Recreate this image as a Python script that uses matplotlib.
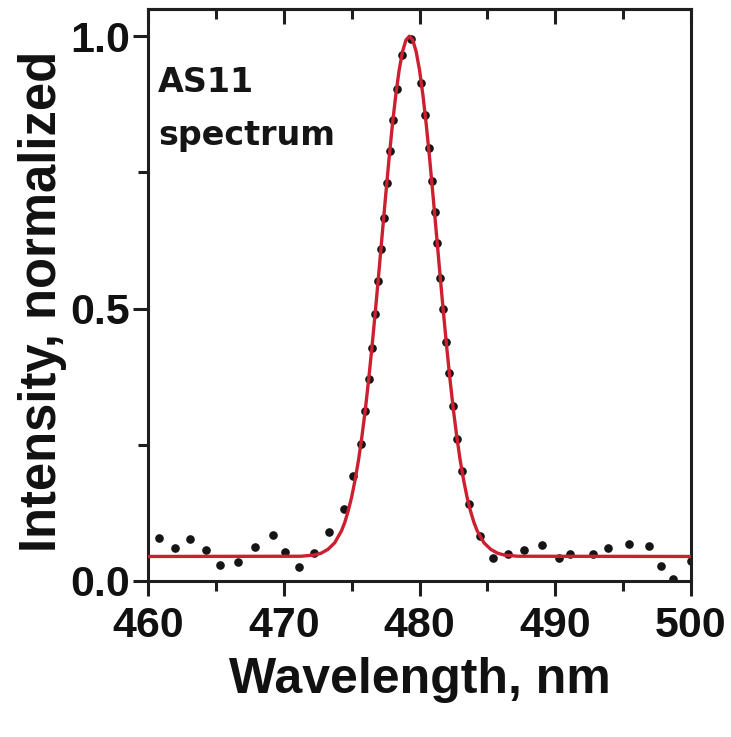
#!/usr/bin/env python

import matplotlib
matplotlib.use('Agg')
from matplotlib import pyplot as plt
from matplotlib.ticker import MultipleLocator

# measured spectrum (black dots)
wavelength = [460.8, 462.0, 463.1, 464.3, 465.3, 466.6, 467.9, 469.2, 470.1, 471.1,
              472.2, 473.3, 474.4, 475.1, 475.68, 475.99, 476.26, 476.49, 476.73, 476.95,
              477.16, 477.36, 477.59, 477.81, 478.04, 478.31, 478.69, 479.4, 480.14, 480.42,
              480.67, 480.89, 481.11, 481.31, 481.53, 481.73, 481.97, 482.20, 482.46, 482.77,
              483.13, 483.62, 484.44, 485.4, 486.5, 487.7, 489.0, 490.3, 491.1, 492.8,
              493.9, 495.4, 496.9, 497.8, 498.7, 500.0]
intensity = [0.079, 0.061, 0.077, 0.057, 0.029, 0.035, 0.063, 0.085, 0.053, 0.026,
             0.051, 0.090, 0.132, 0.193, 0.252, 0.312, 0.371, 0.428, 0.491, 0.551,
             0.610, 0.667, 0.730, 0.790, 0.846, 0.904, 0.965, 0.995, 0.914, 0.855,
             0.794, 0.735, 0.677, 0.620, 0.557, 0.500, 0.438, 0.381, 0.322, 0.261,
             0.202, 0.142, 0.083, 0.042, 0.050, 0.057, 0.066, 0.042, 0.050, 0.050,
             0.061, 0.068, 0.064, 0.028, 0.004, 0.037]

# fitted curve (red line)
fit_wavelength = [460.0, 471.25, 472.25, 472.75, 473.25, 473.75, 474.25, 474.5, 474.75, 475.0,
                  475.25, 475.5, 475.75, 476.0, 476.25, 476.5, 476.75, 477.0, 477.25, 477.5,
                  477.75, 478.0, 478.25, 478.5, 478.75, 479.0, 479.25, 479.5, 479.75, 480.0,
                  480.25, 480.5, 480.75, 481.0, 481.25, 481.5, 481.75, 482.0, 482.25, 482.5,
                  482.75, 483.0, 483.25, 483.5, 483.75, 484.0, 484.25, 484.75, 485.25, 485.75,
                  486.25, 487.25, 500.0]
fit_intensity = [0.045, 0.0454, 0.0476, 0.051, 0.058, 0.070, 0.092, 0.108, 0.129, 0.154,
                 0.185, 0.221, 0.264, 0.313, 0.369, 0.430, 0.496, 0.565, 0.636, 0.706,
                 0.774, 0.837, 0.892, 0.938, 0.972, 0.993, 1.000, 0.993, 0.972, 0.938,
                 0.892, 0.837, 0.774, 0.706, 0.636, 0.565, 0.496, 0.430, 0.369, 0.313,
                 0.264, 0.221, 0.185, 0.154, 0.129, 0.108, 0.092, 0.070, 0.058, 0.051,
                 0.0476, 0.0454, 0.045]

x_ticks = [460, 470, 480, 490, 500]
y_ticks = [0.0, 0.5, 1.0]
y_tick_labels = ['0.0', '0.5', '1.0']


def main():
    spine = '#1e1e1e'
    sans = ['Liberation Sans', 'DejaVu Sans']

    fig = plt.figure(figsize=[7.31, 7.37], dpi=100)
    ax = fig.add_axes([0.2025, 0.2117, 0.7428, 0.7761])

    ax.plot(wavelength, intensity, linestyle='none', marker='o', markersize=5.2,
            color='#151515', zorder=2)
    ax.plot(fit_wavelength, fit_intensity, color='#cc2030', linewidth=2.4, zorder=3)

    ax.set_xlim(460, 500)
    ax.set_ylim(0, 1.05)
    ax.set_xticks(x_ticks)
    ax.set_yticks(y_ticks)
    ax.set_yticklabels(y_tick_labels)
    ax.xaxis.set_minor_locator(MultipleLocator(5))
    ax.yaxis.set_minor_locator(MultipleLocator(0.25))

    for s in ax.spines.values():
        s.set_linewidth(2.2)
        s.set_color(spine)

    ax.tick_params(which='both', direction='out', color=spine, width=2.2,
                   top=False, right=False)
    ax.tick_params(which='major', length=11)
    ax.tick_params(which='minor', length=7)
    ax.tick_params(axis='x', which='major', pad=7)
    ax.tick_params(axis='y', which='major', pad=2)

    for lab in ax.get_xticklabels() + ax.get_yticklabels():
        lab.set_family(sans)
        lab.set_fontweight('bold')
        lab.set_fontsize(31)
        lab.set_color('#111111')

    top = ax.secondary_xaxis('top')
    top.set_xticks(x_ticks)
    top.xaxis.set_minor_locator(MultipleLocator(5))
    top.tick_params(which='both', direction='in', color=spine, width=2.2,
                    labeltop=False)
    top.tick_params(which='major', length=11)
    top.tick_params(which='minor', length=7)
    top.spines['top'].set_linewidth(2.2)
    top.spines['top'].set_color(spine)

    ax.set_xlabel('Wavelength, nm', family=sans, fontweight='bold',
                  fontsize=36, color='#111111')
    ax.xaxis.set_label_coords(0.501, -0.133)
    ax.set_ylabel('Intensity, normalized', family=sans,
                  fontweight='bold', fontsize=36.5, color='#111111')
    ax.yaxis.set_label_coords(-0.15, 0.488)

    ax.text(0.018, 0.855, 'AS11', transform=ax.transAxes,
            family=['DejaVu Sans'], fontweight='bold', fontsize=24,
            color='#151515', va='baseline', ha='left')
    ax.text(0.018, 0.762, 'spectrum', transform=ax.transAxes,
            family=['DejaVu Sans'], fontweight='bold', fontsize=24,
            color='#151515', va='baseline', ha='left')

    fig.savefig('out.png', dpi=100)


if __name__ == '__main__':
    main()
